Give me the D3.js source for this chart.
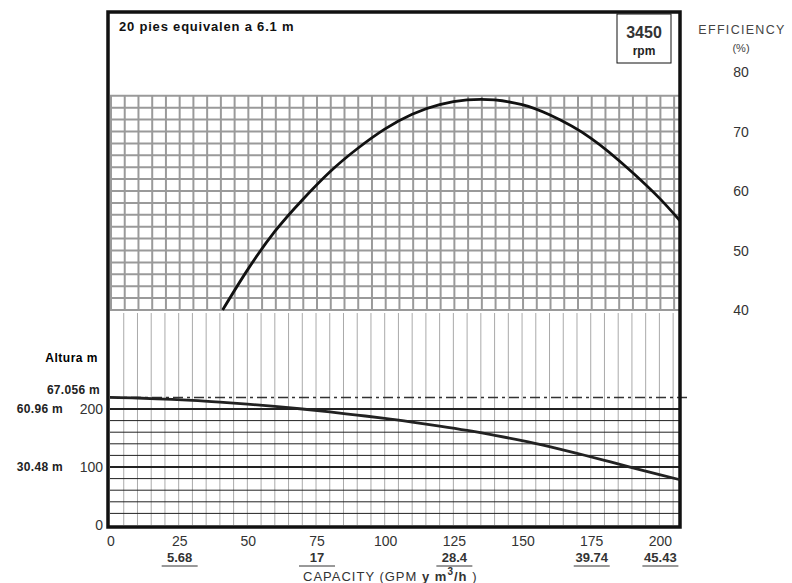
<!DOCTYPE html>
<html>
<head>
<meta charset="utf-8">
<script src="https://cdn.jsdelivr.net/npm/d3@7"></script>
<style>
  body { margin: 0; background: #fff; }
  text { font-family: "Liberation Sans", Arial, sans-serif; }
</style>
</head>
<body>
<svg id="chart" width="792" height="583"></svg>
<script>
// Data
const effCurve = [[41,40],[50,46.7],[60,53.2],[70,58.5],[80,63.2],[90,67.1],[100,70.4],[110,72.9],
  [120,74.5],[130,75.3],[140,75.3],[150,74.5],[160,72.8],[175,68.9],[190,63.2],[200,58.8],[207.5,55]];
const headCurve = [[0,220],[10,219],[20,217],[30,215],[40,212],[50,208.5],[60,204.5],[70,200],[80,195],
  [90,189.5],[100,184],[110,177.5],[120,170.5],[130,163],[140,154.5],[150,145.5],[160,135],[170,123.5],
  [180,111.5],[190,99],[200,87],[207.5,78]];
const gpmTicks = [0, 25, 50, 75, 100, 125, 150, 175, 200];
const m3hLabels = [[25, "5.68"], [75, "17"], [125, "28.4"], [175, "39.74"], [200, "45.43"]];
const effTicks = [40, 50, 60, 70, 80];
const headTicks = [0, 100, 200];
const headMeters = [[220, "67.056 m"], [200, "60.96 m"], [100, "30.48 m"]];

const svg = d3.select("#chart");
const x = d3.scaleLinear().domain([0, 207.5]).range([110, 680]);
const yEff = d3.scaleLinear().domain([40, 80]).range([310, 72]);
const yHead = d3.scaleLinear().domain([0, 100]).range([525, 467]);

// upper grid (efficiency area, 40..76 %)
const effTop = 76;
svg.append("g").selectAll("line")
  .data(d3.range(40, effTop + 1, 2))
  .enter().append("line")
  .attr("x1", x(0)).attr("x2", x(207.5))
  .attr("y1", d => yEff(d)).attr("y2", d => yEff(d))
  .style("stroke", "#9a9a9a").style("stroke-width", 2);
svg.append("g").selectAll("line")
  .data(d3.range(0, 207, 5))
  .enter().append("line")
  .attr("x1", d => x(d) + 1).attr("x2", d => x(d) + 1)
  .attr("y1", yEff(effTop)).attr("y2", yEff(40))
  .style("stroke", "#9a9a9a").style("stroke-width", 2);

// lower grid (head area)
svg.append("g").selectAll("line")
  .data(d3.range(5, 207, 5))
  .enter().append("line")
  .attr("x1", d => x(d)).attr("x2", d => x(d))
  .attr("y1", yEff(40) + 3).attr("y2", yHead(0))
  .style("stroke", "#aaa").style("stroke-width", 1);
svg.append("g").selectAll("line")
  .data(d3.range(20, 201, 20))
  .enter().append("line")
  .attr("x1", x(0)).attr("x2", x(207.5))
  .attr("y1", d => yHead(d)).attr("y2", d => yHead(d))
  .style("stroke", "#222")
  .style("stroke-width", d => d % 100 === 0 ? 2 : 1);
svg.append("line")
  .attr("x1", x(0)).attr("x2", x(207.5) + 8)
  .attr("y1", yHead(220)).attr("y2", yHead(220))
  .style("stroke", "#333").style("stroke-width", 1.5)
  .style("stroke-dasharray", "10,4,3,4");

// frame
svg.append("rect")
  .attr("x", 108).attr("y", 12)
  .attr("width", 572).attr("height", 515)
  .style("fill", "none").style("stroke", "#111").style("stroke-width", 3.5);

// curves
const line = d3.line().curve(d3.curveNatural);
svg.append("path")
  .attr("d", line.x(d => x(d[0])).y(d => yEff(d[1]))(effCurve))
  .style("fill", "none").style("stroke", "#111").style("stroke-width", 2.8);
svg.append("path")
  .attr("d", line.x(d => x(d[0])).y(d => yHead(d[1]))(headCurve))
  .style("fill", "none").style("stroke", "#222").style("stroke-width", 2.8);

// texts
svg.append("text").attr("x", 119).attr("y", 31)
  .style("font-size", "13px").style("font-weight", "bold").style("letter-spacing", "0.8px")
  .style("fill", "#111")
  .text("20 pies equivalen a 6.1 m");

svg.append("rect").attr("x", 617).attr("y", 14).attr("width", 54).attr("height", 49)
  .style("fill", "#fff").style("stroke", "#111").style("stroke-width", 1);
svg.append("text").attr("x", 644).attr("y", 38).attr("text-anchor", "middle")
  .style("font-size", "16px").style("font-weight", "bold").style("fill", "#333").text("3450");
svg.append("text").attr("x", 644).attr("y", 55).attr("text-anchor", "middle")
  .style("font-size", "12px").style("font-weight", "bold").style("fill", "#222").text("rpm");

svg.append("text").attr("x", 742).attr("y", 34).attr("text-anchor", "middle")
  .style("font-size", "12.5px").style("letter-spacing", "1.3px").style("fill", "#444").text("EFFICIENCY");
svg.append("text").attr("x", 741).attr("y", 52).attr("text-anchor", "middle")
  .style("font-size", "11px").style("fill", "#444").text("(%)");
svg.append("g").selectAll("text")
  .data(effTicks).enter().append("text")
  .attr("x", 741).attr("y", d => yEff(d) + 5).attr("text-anchor", "middle")
  .style("font-size", "14px").style("fill", "#333").text(d => d);

// head axis
svg.append("text").attr("x", 98).attr("y", 362).attr("text-anchor", "end")
  .style("font-size", "12px").style("font-weight", "bold").style("letter-spacing", "0.5px")
  .text("Altura m");
svg.append("g").selectAll("text")
  .data(headTicks).enter().append("text")
  .attr("x", 103).attr("y", d => yHead(d) + 5).attr("text-anchor", "end")
  .style("font-size", "14px").style("fill", "#333").text(d => d);
svg.append("g").selectAll("text")
  .data(headMeters).enter().append("text")
  .attr("x", d => d[0] === 220 ? 100 : 63)
  .attr("y", d => yHead(d[0]) + (d[0] === 220 ? -3 : 4))
  .attr("text-anchor", "end")
  .style("font-size", "12px").style("font-weight", "bold").style("fill", "#222")
  .style("letter-spacing", "0.3px")
  .text(d => d[1]);

// capacity axis
svg.append("g").selectAll("text")
  .data(gpmTicks).enter().append("text")
  .attr("x", d => x(d) + 1).attr("y", 546).attr("text-anchor", "middle")
  .style("font-size", "14px").style("fill", "#333").text(d => d);
const m3 = svg.append("g").selectAll("g")
  .data(m3hLabels).enter().append("g");
m3.append("text")
  .attr("x", d => x(d[0]) + 1).attr("y", 562).attr("text-anchor", "middle")
  .style("font-size", "13px").style("font-weight", "bold").style("fill", "#333").text(d => d[1]);
m3.append("line")
  .attr("x1", d => x(d[0]) - 17).attr("x2", d => x(d[0]) + 19)
  .attr("y1", 566).attr("y2", 566)
  .style("stroke", "#333").style("stroke-width", 1);

const cap = svg.append("text").attr("x", 303).attr("y", 581)
  .style("font-size", "13px").style("fill", "#333").style("letter-spacing", "1px");
cap.append("tspan").text("CAPACITY (GPM ");
cap.append("tspan").style("font-weight", "bold").text(" y   m");
cap.append("tspan").style("font-weight", "bold").style("font-size", "10px").attr("dy", -6).text("3");
cap.append("tspan").style("font-weight", "bold").attr("dy", 6).text("/h");
cap.append("tspan").text(" )");
</script>
</body>
</html>
